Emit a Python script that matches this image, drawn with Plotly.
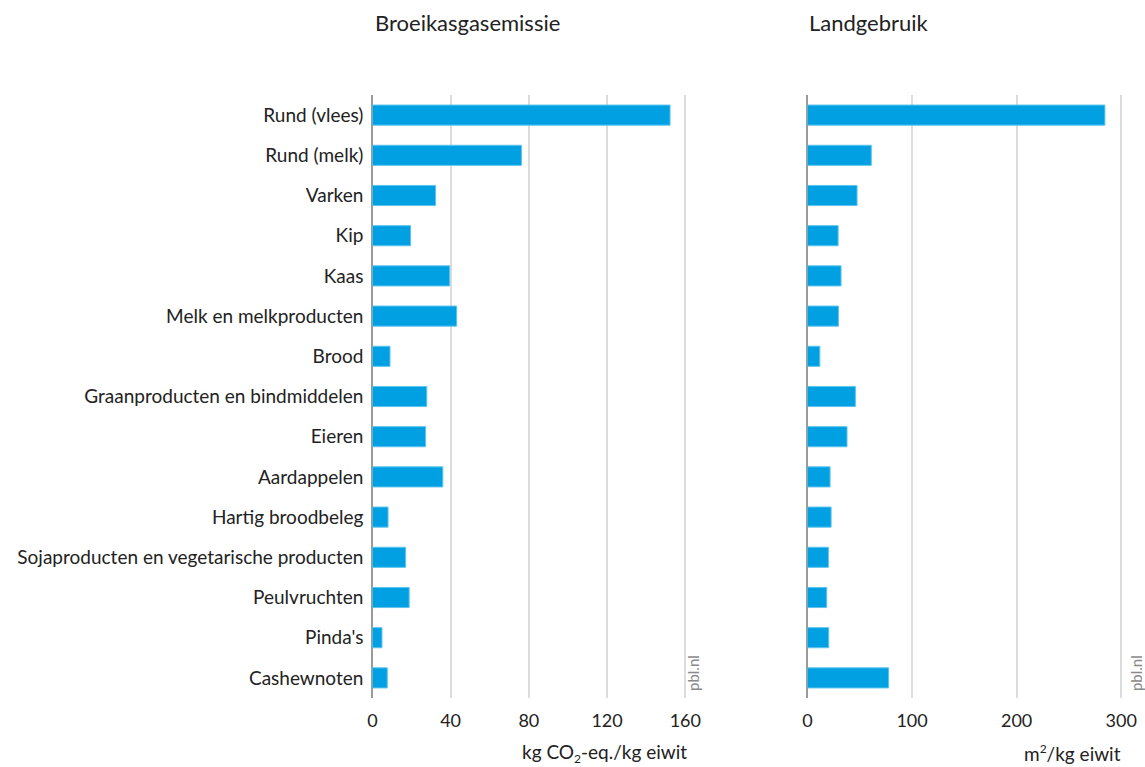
import plotly.graph_objects as go
from plotly.subplots import make_subplots

categories = [
    "Rund (vlees)", "Rund (melk)", "Varken", "Kip", "Kaas",
    "Melk en melkproducten", "Brood", "Graanproducten en bindmiddelen",
    "Eieren", "Aardappelen", "Hartig broodbeleg",
    "Sojaproducten en vegetarische producten", "Peulvruchten",
    "Pinda's", "Cashewnoten",
]
ghg = [152.2, 76.2, 32.3, 19.5, 39.5, 43.1, 9.0, 27.8, 27.2, 36.0, 8.0, 17.0, 18.8, 4.9, 7.6]
land = [284.4, 61.0, 47.4, 29.3, 32.1, 29.6, 11.8, 45.8, 37.8, 21.6, 22.6, 20.0, 18.4, 20.3, 77.6]
ghg_ticks = [0, 40, 80, 120, 160]
land_ticks = [0, 100, 200, 300]

BLUE = "#00a0e2"
FONT = "Lato"
W, H = 1145, 767

fig = make_subplots(rows=1, cols=2)

fig.add_trace(go.Bar(
    y=categories, x=ghg, orientation="h",
    marker=dict(color=BLUE, line=dict(color="#5cc3ee", width=1)),
    showlegend=False, hoverinfo="x+y",
), row=1, col=1)

fig.add_trace(go.Bar(
    y=categories, x=land, orientation="h",
    marker=dict(color=BLUE, line=dict(color="#5cc3ee", width=1)),
    showlegend=False, hoverinfo="x+y",
), row=1, col=2)

xcommon = dict(
    showgrid=True, gridcolor="#dcdcdc", gridwidth=1.5,
    zeroline=True, zerolinecolor="#9a9a9a", zerolinewidth=2,
    showline=False, ticks="", tickfont=dict(size=18, color="#222"),
    ticklabelstandoff=10, fixedrange=True,
)
fig.update_layout(
    width=W, height=H,
    margin=dict(l=0, r=0, t=0, b=0),
    plot_bgcolor="white", paper_bgcolor="white",
    font=dict(family=FONT, size=19, color="#222"),
    bargap=0.5,
    xaxis=dict(domain=[369 / W, 699 / W], range=[0, 168],
               tickvals=ghg_ticks, **xcommon),
    xaxis2=dict(domain=[806 / W, 1140 / W], range=[0, 318],
                tickvals=land_ticks, **xcommon),
    yaxis=dict(domain=[1 - 698 / H, 1 - 95 / H], autorange="reversed",
               tickfont=dict(size=19, color="#222"), ticklabelstandoff=8,
               showgrid=False, fixedrange=True),
    yaxis2=dict(domain=[1 - 698 / H, 1 - 95 / H], autorange="reversed",
                showticklabels=False, showgrid=False, fixedrange=True),
)

small = "<span style='font-size:12px'>2</span>"
annotations = [
    dict(text="Broeikasgasemissie", x=370 / W, y=1 - 22 / H, xanchor="left",
         yanchor="middle", font=dict(size=22)),
    dict(text="Landgebruik", x=806 / W, y=1 - 22 / H, xanchor="left",
         yanchor="middle", font=dict(size=22)),
    dict(text=f"kg CO<sub>{small}</sub>-eq./kg eiwit", x=687 / W, y=1 - 753 / H,
         xanchor="right", yanchor="middle", font=dict(size=19)),
    dict(text=f"m<sup>{small}</sup>/kg eiwit", x=1123 / W, y=1 - 753 / H,
         xanchor="right", yanchor="middle", font=dict(size=19)),
    dict(text="pbl.nl", x=691 / W, y=1 - 693 / H, xanchor="center",
         yanchor="bottom", textangle=-90, font=dict(size=15, color="#8a8a8a")),
    dict(text="pbl.nl", x=1136 / W, y=1 - 693 / H, xanchor="center",
         yanchor="bottom", textangle=-90, font=dict(size=15, color="#8a8a8a")),
]
for a in annotations:
    fig.add_annotation(xref="paper", yref="paper", showarrow=False, **a)

fig.write_html(
    "out.html",
    config={"displayModeBar": False},
    post_script="document.body.style.margin='0';document.body.style.overflow='hidden';",
)
